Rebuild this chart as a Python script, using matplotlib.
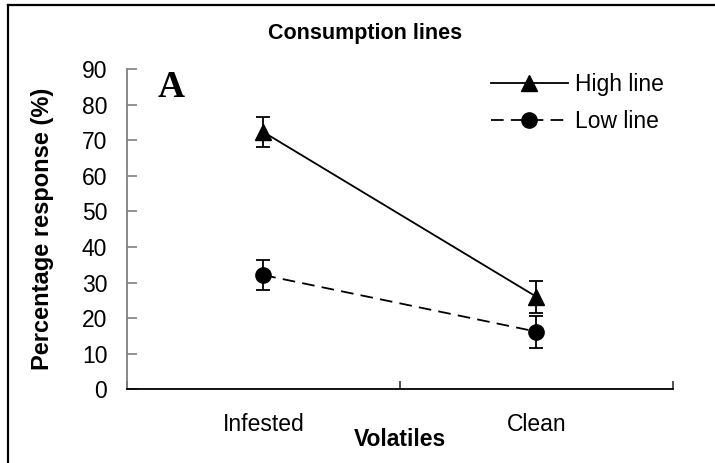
import matplotlib
matplotlib.use("Agg")
import matplotlib.pyplot as plt
from matplotlib.lines import Line2D

categories = ["Infested", "Clean"]
high_line = [72.3, 26.0]
high_err = [4.2, 4.5]
low_line = [32.1, 16.2]
low_err = [4.2, 4.5]
yticks = [0, 10, 20, 30, 40, 50, 60, 70, 80, 90]
series_labels = ["High line", "Low line"]

plt.rcParams['font.family'] = ['Liberation Sans', 'DejaVu Sans']

W, H = 715, 463
fig = plt.figure(figsize=(W / 100, H / 100), dpi=100)
ax = fig.add_axes([126.7 / W, 1 - 389.3 / H, (673 - 126.7) / W, (389.3 - 69) / H])

dash = (0, (7, 4))
x = list(range(len(categories)))
ax.errorbar(x, high_line, yerr=high_err, color='black', lw=1.3, marker='^', ms=11.5,
            capsize=5, elinewidth=1.3, capthick=1.3)
ax.errorbar(x, low_line, yerr=low_err, color='black', lw=1.3, marker='o', ms=11,
            capsize=5, elinewidth=1.3, capthick=1.3, ls=dash)

ax.set_xlim(-0.5, len(categories) - 0.5)
ax.set_ylim(0, 90)
ax.set_yticks(yticks)
ax.set_xticks([i - 0.5 for i in range(len(categories) + 1)])
ax.set_xticklabels([])
ax.set_xticks(x, minor=True)
ax.set_xticklabels(categories, minor=True)
ax.tick_params(axis='x', which='major', direction='in', length=6, width=1.2, color='#333333')
ax.tick_params(axis='x', which='minor', length=0, pad=17, labelsize=16.5)
ax.tick_params(axis='y', direction='in', length=7, width=1.2, color='#808080', pad=14, labelsize=16.5)
for s in ['top', 'right']:
    ax.spines[s].set_visible(False)
ax.spines['left'].set_color('#808080')
ax.spines['left'].set_linewidth(1.3)
ax.spines['bottom'].set_color('black')
ax.spines['bottom'].set_linewidth(1.3)

ax.set_ylabel('Percentage response (%)', fontsize=17, fontweight='bold', labelpad=20)
fig.text(400 / W, 1 - 440 / H, 'Volatiles', fontsize=16.5, fontweight='bold', ha='center', va='center')
fig.text(365 / W, 1 - 34 / H, 'Consumption lines', fontsize=15.5, fontweight='bold', ha='center', va='center')
ax.text(0.057, 0.913, 'A', transform=ax.transAxes, fontsize=27, fontweight='bold',
        family='Liberation Serif', ha='left', va='baseline')

handles = [Line2D([], [], color='black', lw=1.3, marker='^', ms=11.5),
           Line2D([], [], color='black', lw=1.3, marker='o', ms=11, ls=dash)]
ax.legend(handles, series_labels, loc='upper left', bbox_to_anchor=(491 / W, 1 - 73 / H),
          bbox_transform=fig.transFigure, frameon=False, fontsize=16.5, borderpad=0,
          borderaxespad=0, handlelength=3.35, handletextpad=0.3, labelspacing=0.6)

fig.add_artist(Line2D([7.5 / W, 7.5 / W], [-0.1, 1 - 5 / H], transform=fig.transFigure,
                      color='black', lw=1.6))
fig.add_artist(Line2D([7.5 / W, 1.1], [1 - 5 / H, 1 - 5 / H], transform=fig.transFigure,
                      color='black', lw=1.6))

fig.savefig('out.png', dpi=100)
